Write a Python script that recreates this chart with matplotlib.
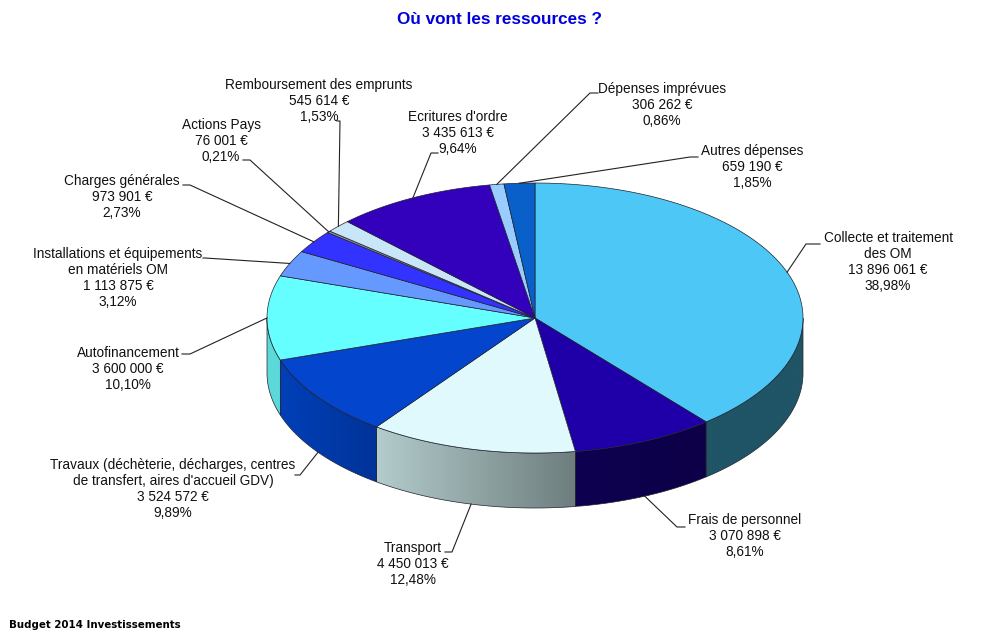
import numpy as np
import matplotlib
matplotlib.use('Agg')
import matplotlib.pyplot as plt
from matplotlib.colors import to_rgb
from matplotlib.patches import Polygon

names = ['Collecte et traitement\ndes OM', 'Frais de personnel', 'Transport',
         'Travaux (déchèterie, décharges, centres\nde transfert, aires d\'accueil GDV)',
         'Autofinancement', 'Installations et équipements\nen matériels OM',
         'Charges générales', 'Actions Pays', 'Remboursement des emprunts',
         "Ecritures d'ordre", 'Dépenses imprévues', 'Autres dépenses']
amounts = [13896061, 3070898, 4450013, 3524572, 3600000, 1113875,
           973901, 76001, 545614, 3435613, 306262, 659190]
amount_labels = ['13 896 061 €', '3 070 898 €', '4 450 013 €', '3 524 572 €',
                 '3 600 000 €', '1 113 875 €', '973 901 €', '76 001 €',
                 '545 614 €', '3 435 613 €', '306 262 €', '659 190 €']
percent_labels = ['38,98%', '8,61%', '12,48%', '9,89%', '10,10%', '3,12%',
                  '2,73%', '0,21%', '1,53%', '9,64%', '0,86%', '1,85%']

top_colors = ['#4DC8F6', '#1F00A8', '#E0F9FC', '#0445CE', '#66FFFF', '#6699FF',
              '#3333FF', '#8C8CA8', '#C8E6F8', '#3300BB', '#99CCFF', '#0860C8']
# side colours only matter for slices on the front half
side_left = ['#1F5566', '#0D0050', '#B4CCCC', '#0040B8', '#5CD9D9', '#000000',
             '#000000', '#000000', '#000000', '#000000', '#000000', '#000000']
side_right = ['#1F5566', '#0D0048', '#6E7E7E', '#003399', '#5CD9D9', '#000000',
              '#000000', '#000000', '#000000', '#000000', '#000000', '#000000']

# pie geometry, in image pixels
cx, cy = 535, 318
rx, ry = 268, 135
depth = 55

# label centre and the elbow of its leader line
label_pos = [(888, 262), (745, 536), (413, 564), (173, 489), (128, 369), (118, 278),
             (122, 197), (221, 141), (319, 101), (458, 133), (662, 105), (752, 167)]
elbows = [[(806, 244), (820, 244)], [(677, 527), (685, 527)], [(452, 552), (445, 552)],
          [(300, 475), (295, 475)], [(190, 354), (182, 354)], [(205, 258), (203, 258)],
          [(190, 185), (183, 185)], [(250, 160), (243, 160)], [(340, 121), (337, 121)],
          [(431, 153), (438, 153)], [(590, 93), (598, 93)], [(690, 157), (698, 157)]]

plt.rcParams['font.family'] = ['Liberation Sans', 'DejaVu Sans']

fig = plt.figure(figsize=(9.99, 6.36), dpi=100)
ax = fig.add_axes([0, 0, 1, 1])


def rim(a):
    # a is clockwise from 12 o'clock
    return cx + rx * np.sin(a), cy - ry * np.cos(a)


edges = np.concatenate([[0], np.cumsum(amounts)]) / sum(amounts) * 2 * np.pi

# sides first, only the front half of the cylinder shows
for i in range(len(amounts)):
    a0 = max(edges[i], np.pi / 2)
    a1 = min(edges[i + 1], 3 * np.pi / 2)
    if a1 <= a0:
        continue
    t = np.linspace(a0, a1, 120)
    x, y = rim(t)
    pts = np.column_stack([np.r_[x, x[::-1]], np.r_[y, y[::-1] + depth]])
    patch = Polygon(pts, closed=True, facecolor='none', edgecolor='none')
    ax.add_patch(patch)
    grad = np.linspace(0, 1, 256)[None, :, None]
    img = np.array(to_rgb(side_left[i])) * (1 - grad) + np.array(to_rgb(side_right[i])) * grad
    im = ax.imshow(img, extent=[x.min(), x.max(), y.max() + depth, y.min()],
                   aspect='auto', zorder=1, interpolation='bilinear')
    im.set_clip_path(patch)
    ax.add_patch(Polygon(pts, closed=True, facecolor='none', edgecolor='#202030',
                         linewidth=0.5, zorder=2))

# top face
for i in range(len(amounts)):
    t = np.linspace(edges[i], edges[i + 1], 200)
    x, y = rim(t)
    pts = np.column_stack([np.r_[cx, x], np.r_[cy, y]])
    ax.add_patch(Polygon(pts, closed=True, facecolor=top_colors[i], edgecolor='#202030',
                         linewidth=0.5, zorder=3))

# labels and leader lines
for i in range(len(amounts)):
    mid = (edges[i] + edges[i + 1]) / 2
    x0, y0 = rim(mid)
    if np.pi / 2 < mid < 3 * np.pi / 2:
        y0 += depth
    xs = [x0] + [p[0] for p in elbows[i]]
    ys = [y0] + [p[1] for p in elbows[i]]
    ax.plot(xs, ys, color='#222222', linewidth=0.8, zorder=4)
    ax.text(label_pos[i][0], label_pos[i][1],
            names[i] + '\n' + amount_labels[i] + '\n' + percent_labels[i],
            ha='center', va='center', ma='center', fontsize=9.8, linespacing=1.21,
            color='#111111', zorder=5)

ax.text(499.5, 19, 'Où vont les ressources ?', ha='center', va='center',
        fontsize=12.3, fontweight='bold', color='#0000DD')
ax.text(9, 625.5, 'Budget 2014 Investissements', ha='left', va='center',
        fontsize=7.4, fontweight='bold', family='DejaVu Sans', color='black')

ax.set_xlim(0, 999)
ax.set_ylim(636, 0)
ax.axis('off')
fig.savefig('out.png', dpi=100)
